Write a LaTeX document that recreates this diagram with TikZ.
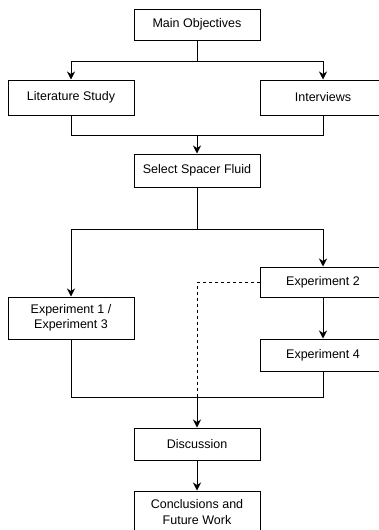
\documentclass[tikz,border=0pt]{standalone}
\usepackage{fontspec}
\setmainfont{Liberation Sans}
\usetikzlibrary{arrows.meta, positioning}
\tikzset{
  >={Stealth[length=8pt, width=8pt, inset=2.5pt]},
  wire/.style ={line width=1pt},
  dashwire/.style={wire, dash pattern=on 3pt off 3pt},
  stepbox/.style={rectangle, draw, line width=1pt, minimum width=126pt,
                  inner sep=2pt, align=center,
                  font=\fontsize{12.5}{15.5}\selectfont},
}

\begin{document}
\begin{tikzpicture}[x=1pt, y=-1pt]
  % --- research plan: objectives, study, experiments, discussion ----------
  \useasboundingbox (0,0) rectangle (378,530);

  \node[stepbox, minimum height=31pt] (obj)  at (197,24.5) {Main Objectives};
  \node[stepbox, minimum height=35pt] (lit)  at (71,97.5)  {Literature Study};
  \node[stepbox, minimum height=35pt] (intv) at (323,97.5) {Interviews};
  \node[stepbox, minimum height=33pt] (sel)  at (197,170.5) {Select Spacer Fluid};
  \node[stepbox, minimum height=30pt] (exptwo)  at (323,282) {Experiment 2};
  \node[stepbox, minimum height=42pt] (expone)  at (71,318)  {Experiment 1 /\\Experiment 3};
  \node[stepbox, minimum height=32pt] (expfour) at (323,355) {Experiment 4};
  \node[stepbox, minimum height=32pt] (disc) at (197,444) {Discussion};
  \node[stepbox, minimum height=42pt] (conc) at (197,512) {Conclusions and\\Future Work};

  \coordinate (splitA) at (197,61);
  \coordinate (joinA)  at (197,135);
  \coordinate (splitB) at (197,229);
  \coordinate (joinB)  at (197,397);

  \draw[wire]    (obj) -- (splitA);
  \draw[wire,->] (splitA) -| (lit);
  \draw[wire,->] (splitA) -| (intv);
  \draw[wire]    (lit) |- (joinA);
  \draw[wire]    (intv) |- (joinA);
  \draw[wire,->] (joinA) -- (sel);

  \draw[wire]    (sel) -- (splitB);
  \draw[wire,->] (splitB) -| (expone);
  \draw[wire,->] (splitB) -| (exptwo);
  \draw[wire,->] (exptwo) -- (expfour);
  \draw[dashwire] (exptwo.west) -| (joinB);   % experiment 2 feeds discussion too

  \draw[wire]    (expone) |- (joinB);
  \draw[wire]    (expfour) |- (joinB);
  \draw[wire,->] (joinB) -- (disc);
  \draw[wire,->] (disc) -- (conc);
\end{tikzpicture}
\end{document}
